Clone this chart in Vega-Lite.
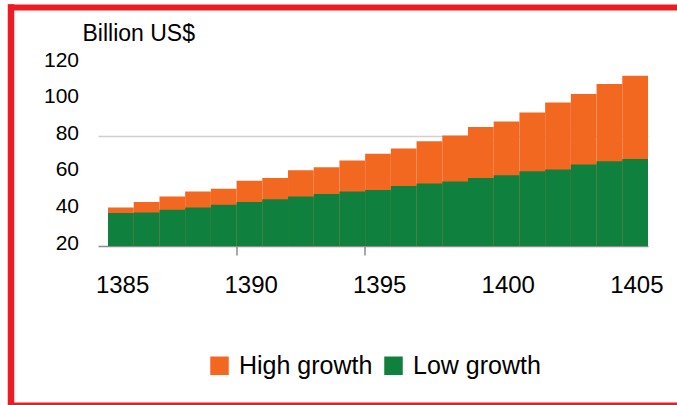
{
  "$schema": "https://vega.github.io/schema/vega-lite/v6.json",
  "width": 666.5,
  "height": 398,
  "autosize": "none",
  "padding": {"left": 10.5, "top": 7, "right": 0, "bottom": 0},
  "background": "white",
  "config": {
    "font": "Liberation Sans",
    "view": {"fill": "white", "stroke": null}
  },
  "data": {
    "values": [
      {"year": 1385, "scenario": "High growth", "value": 41.0},
      {"year": 1386, "scenario": "High growth", "value": 44.0},
      {"year": 1387, "scenario": "High growth", "value": 47.0},
      {"year": 1388, "scenario": "High growth", "value": 49.8},
      {"year": 1389, "scenario": "High growth", "value": 51.3},
      {"year": 1390, "scenario": "High growth", "value": 55.7},
      {"year": 1391, "scenario": "High growth", "value": 57.2},
      {"year": 1392, "scenario": "High growth", "value": 61.4},
      {"year": 1393, "scenario": "High growth", "value": 63.0},
      {"year": 1394, "scenario": "High growth", "value": 66.7},
      {"year": 1395, "scenario": "High growth", "value": 70.4},
      {"year": 1396, "scenario": "High growth", "value": 73.3},
      {"year": 1397, "scenario": "High growth", "value": 77.3},
      {"year": 1398, "scenario": "High growth", "value": 80.4},
      {"year": 1399, "scenario": "High growth", "value": 85.0},
      {"year": 1400, "scenario": "High growth", "value": 88.0},
      {"year": 1401, "scenario": "High growth", "value": 92.9},
      {"year": 1402, "scenario": "High growth", "value": 98.4},
      {"year": 1403, "scenario": "High growth", "value": 103.0},
      {"year": 1404, "scenario": "High growth", "value": 108.5},
      {"year": 1405, "scenario": "High growth", "value": 113.0},
      {"year": 1385, "scenario": "Low growth", "value": 38.0},
      {"year": 1386, "scenario": "Low growth", "value": 38.3},
      {"year": 1387, "scenario": "Low growth", "value": 39.8},
      {"year": 1388, "scenario": "Low growth", "value": 41.0},
      {"year": 1389, "scenario": "Low growth", "value": 42.5},
      {"year": 1390, "scenario": "Low growth", "value": 44.0},
      {"year": 1391, "scenario": "Low growth", "value": 45.6},
      {"year": 1392, "scenario": "Low growth", "value": 47.1},
      {"year": 1393, "scenario": "Low growth", "value": 48.4},
      {"year": 1394, "scenario": "Low growth", "value": 49.8},
      {"year": 1395, "scenario": "Low growth", "value": 50.6},
      {"year": 1396, "scenario": "Low growth", "value": 52.8},
      {"year": 1397, "scenario": "Low growth", "value": 54.1},
      {"year": 1398, "scenario": "Low growth", "value": 55.3},
      {"year": 1399, "scenario": "Low growth", "value": 57.2},
      {"year": 1400, "scenario": "Low growth", "value": 58.6},
      {"year": 1401, "scenario": "Low growth", "value": 60.8},
      {"year": 1402, "scenario": "Low growth", "value": 61.8},
      {"year": 1403, "scenario": "Low growth", "value": 64.5},
      {"year": 1404, "scenario": "Low growth", "value": 66.3},
      {"year": 1405, "scenario": "Low growth", "value": 67.6}
    ]
  },
  "layer": [
    {
      "mark": {"type": "bar", "stroke": null},
      "encoding": {
        "x": {
          "field": "year",
          "type": "ordinal",
          "scale": {"range": [87.5, 637.5], "paddingInner": 0, "paddingOuter": 0.195, "align": 1},
          "axis": {
            "orient": "bottom",
            "title": null,
            "values": [1385, 1390, 1395, 1400, 1405],
            "bandPosition": 0,
            "offset": -159,
            "labelAngle": 0,
            "labelAlign": "left",
            "labelOffset": -25,
            "labelPadding": 18,
            "labelFontSize": 24,
            "labelColor": "black",
            "domainColor": "#8c8c8c",
            "domainWidth": 1.5,
            "tickSize": 9,
            "tickWidth": 1.5,
            "tickColor": {"condition": {"test": "datum.value === 1390 || datum.value === 1395", "value": "#8c8c8c"}, "value": "transparent"},
            "grid": false
          }
        },
        "y": {
          "field": "value",
          "type": "quantitative",
          "scale": {"domain": [20, 120], "range": [239, 56], "zero": false, "nice": false},
          "axis": {
            "orient": "left",
            "values": [20, 40, 60, 80, 100, 120],
            "offset": -70,
            "domain": false,
            "ticks": false,
            "labelPadding": 2,
            "labelOffset": -3,
            "labelFontSize": 21,
            "labelColor": "black",
            "grid": true,
            "gridColor": {"condition": {"test": "datum.value === 80", "value": "#d0d0d0"}, "value": "transparent"},
            "gridWidth": 1.5,
            "title": "Billion US$",
            "titleAngle": 0,
            "titleAlign": "left",
            "titleBaseline": "alphabetic",
            "titleX": 1.5,
            "titleY": 33,
            "titleFontSize": 23,
            "titleFontWeight": "normal",
            "titleColor": "black"
          }
        },
        "y2": {"datum": 20},
        "color": {
          "field": "scenario",
          "type": "nominal",
          "scale": {"domain": ["High growth", "Low growth"], "range": ["#f36821", "#10803e"]},
          "legend": {
            "orient": "none",
            "legendX": 196.5,
            "legendY": 346,
            "direction": "horizontal",
            "title": null,
            "padding": 0,
            "symbolType": "square",
            "symbolSize": 342,
            "symbolStrokeWidth": 0,
            "labelFontSize": 25,
            "labelColor": "black",
            "labelOffset": 7,
            "columnPadding": 8
          }
        }
      }
    },
    {
      "mark": {"type": "point", "opacity": 0},
      "encoding": {
        "x": {
          "field": "year",
          "type": "ordinal",
          "axis": {"orient": "top", "offset": 0, "title": null, "labels": false, "ticks": false, "grid": false, "domainColor": "#ed1c24", "domainWidth": 6, "domainCap": "square"}
        },
        "y": {
          "field": "value",
          "type": "quantitative",
          "axis": {"orient": "left", "offset": 0, "title": null, "labels": false, "ticks": false, "grid": false, "domainColor": "#ed1c24", "domainWidth": 6.5, "domainCap": "square"}
        }
      }
    },
    {
      "mark": {"type": "point", "opacity": 0},
      "encoding": {
        "x": {
          "field": "year",
          "type": "ordinal",
          "axis": {"orient": "bottom", "offset": 0, "title": null, "labels": false, "ticks": false, "grid": false, "domainColor": "#ed1c24", "domainWidth": 6, "domainCap": "square"}
        }
      }
    }
  ],
  "resolve": {
    "scale": {"x": "independent", "y": "independent"},
    "axis": {"x": "independent", "y": "independent"}
  }
}
